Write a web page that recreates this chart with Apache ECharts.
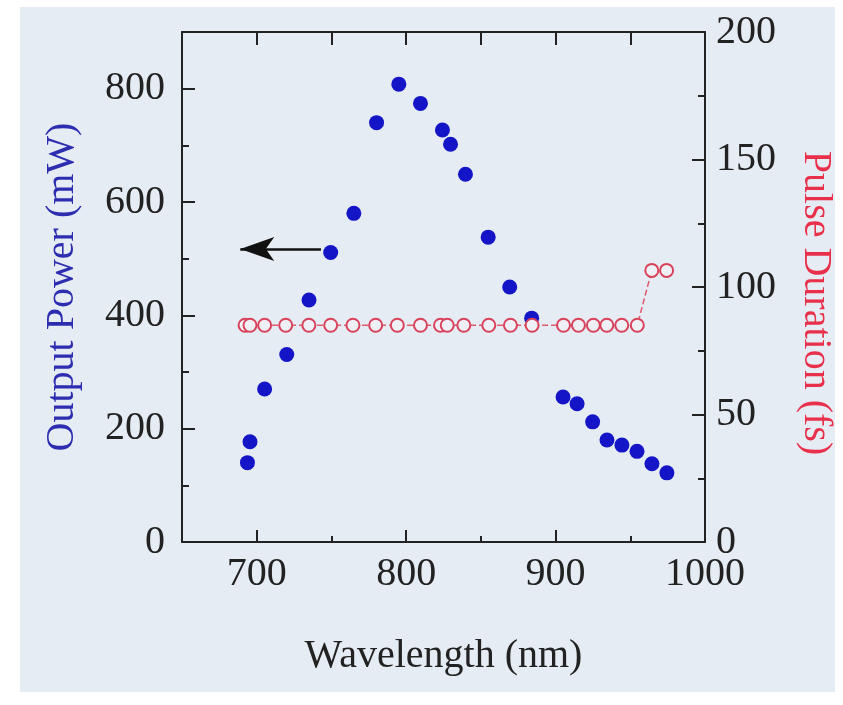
<!DOCTYPE html>
<html>
<head>
<meta charset="utf-8">
<script src="https://cdn.jsdelivr.net/npm/echarts@6/dist/echarts.min.js"></script>
<style>html,body{margin:0;padding:0;background:#fff;}#c{width:843px;height:705px;}</style>
</head>
<body>
<div id="c"></div>
<script>
// Output power (blue filled dots)
var powerWavelength = [693.8,695.5,705.3,720.1,735,749.5,765,780.2,795.1,809.6,824.3,829.7,839.7,854.9,869.3,884,905,914.4,924.8,934.4,944.4,954.5,964.5,974.5];
var powerValues = [140,177,270,331,427,511,580,740,808,774,727,702,649,538,450,395,256,244,212,180,171,160,138,122];
// Pulse duration (red open circles)
var pulseWavelength = [692.2,695.5,705.3,719.4,734.9,749.5,764.4,779.6,794.1,809.6,823,827.5,838.6,855.3,869.8,884.3,905.3,915.3,925.3,934.3,944.3,954.7,964.4,974.3];
var pulseValues = [85,85,85,85,85,85,85,85,85,85,85,85,85,85,85,85,85,85,85,85,85,85,106.5,106.5];
// Tick labels
var xLabels = [700,800,900,1000];
var xMajorTicks = [700,800,900];
var leftLabels = [0,200,400,600,800];
var leftMajorTicks = [200,400,600,800];
// Arrow annotation (data coords)
var arrowFrom = [743,517];
var arrowTo = [689,517];

var font = '"Liberation Serif", "Times New Roman", serif';
var axisColor = '#222';
function plain(v){ return String(v); }

var chart = echarts.init(document.getElementById('c'));
chart.setOption({
  backgroundColor: '#ffffff',
  animation: false,
  graphic: [{type:'rect', z:-10, silent:true, shape:{x:20,y:7,width:815,height:685}, style:{fill:'#e6ecf3'}}],
  grid: {left:182, right:138, top:32, bottom:163, containLabel:false},
  xAxis: [
    {type:'value', position:'bottom', min:650, max:1000, interval:50,
     name:'Wavelength (nm)', nameLocation:'middle', nameGap:94,
     nameTextStyle:{fontFamily:font, fontSize:40, color:'#222'},
     axisLine:{show:true, onZero:false, lineStyle:{color:axisColor, width:2}},
     axisTick:{show:true, inside:false, length:-6, lineStyle:{color:axisColor, width:2}},
     axisLabel:{show:true, customValues:xLabels, formatter:plain, fontFamily:font, fontSize:40, color:'#222', margin:12},
     splitLine:{show:false}},
    {type:'value', position:'top', min:650, max:1000, interval:50,
     axisLine:{show:true, onZero:false, lineStyle:{color:axisColor, width:2}},
     axisTick:{show:true, inside:false, length:-13, lineStyle:{color:axisColor, width:2}},
     axisLabel:{show:false}, splitLine:{show:false}},
    {type:'value', position:'bottom', min:650, max:1000, interval:50,
     axisLine:{show:false, onZero:false},
     axisTick:{show:true, inside:false, length:-12, customValues:xMajorTicks, lineStyle:{color:axisColor, width:2}},
     axisLabel:{show:false}, splitLine:{show:false}}
  ],
  yAxis: [
    {type:'value', position:'left', min:0, max:900, interval:100,
     name:'Output Power (mW)', nameLocation:'middle', nameGap:100, nameRotate:90,
     nameTextStyle:{fontFamily:font, fontSize:40, color:'#2d2db0'},
     axisLine:{show:true, onZero:false, lineStyle:{color:axisColor, width:2}},
     axisTick:{show:true, inside:false, length:-7, lineStyle:{color:axisColor, width:2}},
     axisLabel:{show:true, customValues:leftLabels, formatter:plain, fontFamily:font, fontSize:40, color:'#222', margin:17},
     splitLine:{show:false}},
    {type:'value', position:'right', min:0, max:200, interval:50,
     name:'Pulse Duration (fs)', nameLocation:'middle', nameGap:90, nameRotate:-90,
     nameTextStyle:{fontFamily:font, fontSize:40, color:'#e8304a', padding:[0,0,0,32]},
     axisLine:{show:true, onZero:false, lineStyle:{color:axisColor, width:2}},
     axisTick:{show:true, inside:false, length:-13, lineStyle:{color:axisColor, width:2}},
     minorTick:{show:true, splitNumber:2, length:-7, lineStyle:{color:axisColor, width:2}},
     axisLabel:{show:true, formatter:plain, fontFamily:font, fontSize:40, color:'#222', margin:11},
     splitLine:{show:false}, minorSplitLine:{show:false}},
    {type:'value', position:'left', min:0, max:900, interval:100,
     axisLine:{show:false, onZero:false},
     axisTick:{show:true, inside:false, length:-13, customValues:leftMajorTicks, lineStyle:{color:axisColor, width:2}},
     axisLabel:{show:false}, splitLine:{show:false}}
  ],
  series: [
    {type:'scatter', name:'Output Power', xAxisIndex:0, yAxisIndex:0, z:3,
     data: powerWavelength.map(function(w,i){return [w, powerValues[i]];}),
     symbol:'circle', symbolSize:15, itemStyle:{color:'#1515c8', opacity:1},
     markLine:{silent:true, symbol:['none','arrow'], symbolSize:[18,34], label:{show:false},
       lineStyle:{color:'#111', width:2.5, type:'solid'},
       data:[[{coord:arrowFrom},{coord:arrowTo}]]}},
    {type:'line', name:'Pulse Duration', xAxisIndex:0, yAxisIndex:1, z:4,
     data: pulseWavelength.map(function(w,i){return [w, pulseValues[i]];}),
     symbol:'circle', symbolSize:13, showSymbol:true, showAllSymbol:true,
     lineStyle:{color:'#e05a6c', width:1.5, type:'dashed'},
     itemStyle:{color:'#eef0f5', borderColor:'#d8425a', borderWidth:2}}
  ]
});
</script>
</body>
</html>
